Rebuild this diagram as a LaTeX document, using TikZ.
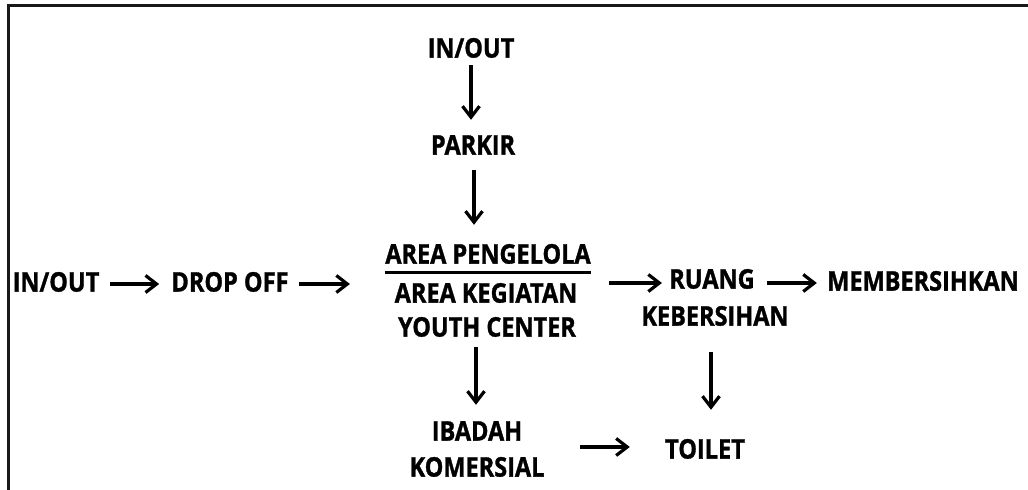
\documentclass[tikz,border=0pt]{standalone}
\usepackage{fontspec}
\setmainfont{Open Sans}[FakeStretch=0.87, BoldFeatures={FakeBold=1.2}]
\usepackage{tikz}
\usetikzlibrary{arrows.meta, positioning}

\begin{document}
\begin{tikzpicture}[
    x=0.5pt, y=-0.5pt,
    lbl/.style={inner sep=0pt, text height=9.6pt, text depth=0pt,
                font=\fontsize{13.5}{17}\selectfont\bfseries},
    arr/.style={-{Straight Barb[length=5.5pt, width=8.5pt]}, line width=1.6pt, black},
    frame/.style={line width=1.5pt, black!90}
]
\useasboundingbox (0,0) rectangle (1028,490);

% --- Frame ---
\draw[frame] (1028,6) -| (8,490);

% --- Top entrance ---
\node[lbl] (intop) at (471,48) {IN/OUT};
\node[lbl] (parkir) at (473,145) {PARKIR};

% --- Central block ---
\node[lbl] (pengelola) at (488,254) {AREA PENGELOLA};
\node[lbl] (kegiatan) at (486,293) {AREA KEGIATAN};
\node[lbl] (youth) at (487,327) {YOUTH CENTER};
\draw[line width=1.5pt] ([yshift=-4.5pt]pengelola.south west) -- ([yshift=-4.5pt]pengelola.south east);

% --- Left entrance ---
\node[lbl] (inleft) at (56,282) {IN/OUT};
\node[lbl] (dropoff) at (230,282) {DROP OFF};

% --- Right side ---
\node[lbl] (ruang) at (712,279) {RUANG};
\node[lbl] (kebersihan) at (715,316) {KEBERSIHAN};
\node[lbl] (membersihkan) at (923,281) {MEMBERSIHKAN};

% --- Bottom ---
\node[lbl] (ibadah) at (477,431) {IBADAH};
\node[lbl] (komersial) at (477,467) {KOMERSIAL};
\node[lbl] (toilet) at (705,449) {TOILET};

% --- Arrows: vertical ---
\draw[arr, shorten <=3.7pt, shorten >=7.6pt] (intop.south) -- (intop.south |- parkir.north);
\draw[arr, shorten <=7.6pt, shorten >=9.6pt] ([xshift=0.5pt]parkir.south) -- ([xshift=0.5pt]parkir.south |- pengelola.north);
\draw[arr, shorten <=5.1pt, shorten >=8.1pt] ([xshift=-5.5pt]youth.south) -- ([xshift=-5.5pt]youth.south |- ibadah.north);
\draw[arr, shorten <=13.1pt, shorten >=14.6pt] ([xshift=-2pt]kebersihan.south) -- ([xshift=-2pt]kebersihan.south |- toilet.north);

% --- Arrows: horizontal ---
\draw[arr, shorten <=5pt, shorten >=6pt] ([yshift=-1pt]inleft.east) -- ([yshift=-1pt]inleft.east -| dropoff.west);
\draw[arr, shorten <=5pt, shorten >=17.5pt] ([yshift=-1pt]dropoff.east) -- ([yshift=-1pt]dropoff.east -| pengelola.west);
\draw[arr, shorten <=9pt, shorten >=3.5pt] ([yshift=-2pt]ruang.west -| pengelola.east) -- ([yshift=-2pt]ruang.west);
\draw[arr, shorten <=6pt, shorten >=5pt] ([yshift=-2pt]ruang.east) -- ([yshift=-2pt]ruang.east -| membersihkan.west);
\draw[arr, shorten <=17.5pt, shorten >=17.5pt] ([yshift=1pt]toilet.west -| komersial.east) -- ([yshift=1pt]toilet.west);

\end{tikzpicture}
\end{document}
